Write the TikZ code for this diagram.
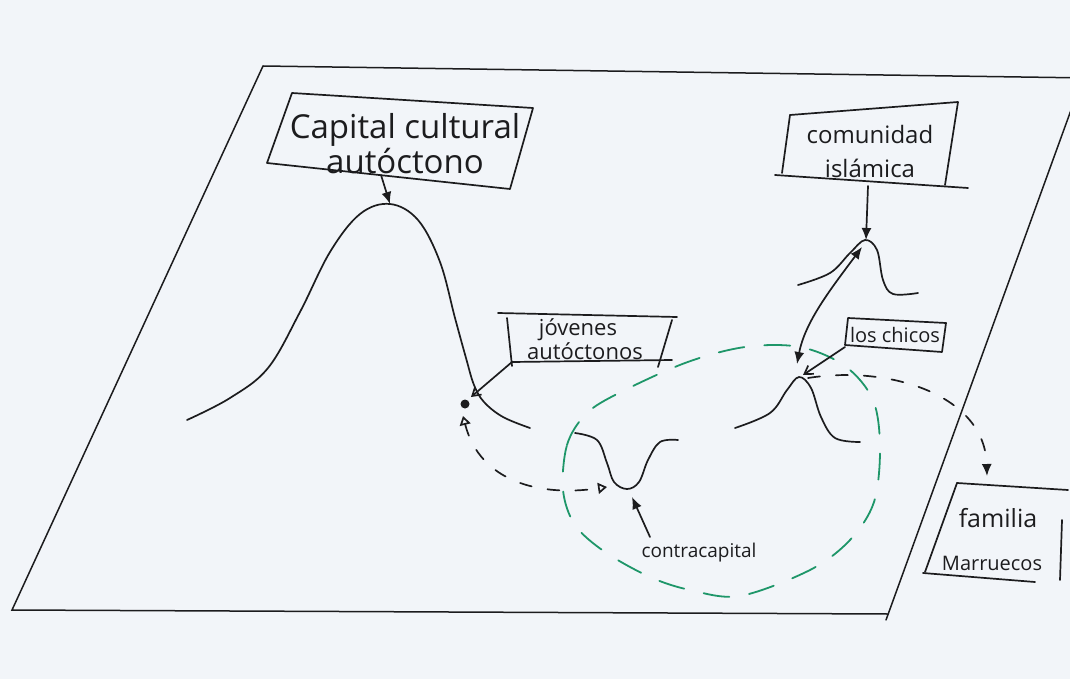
\documentclass[tikz,border=0pt]{standalone}
\usepackage{fontspec}
\setmainfont{Open Sans}
\usetikzlibrary{arrows.meta}
\definecolor{paper}{RGB}{242,245,249}
\definecolor{ink}{RGB}{28,28,30}
\definecolor{pen}{RGB}{30,150,105}
\tikzset{
  stroke/.style={draw=ink, line width=1.7pt, line cap=round, line join=round},
  frame/.style={draw=ink, line width=1.5pt, line cap=round},
  lbl/.style={inner sep=0pt, text=ink, align=center},
  fullhead/.style={-{Latex[length=12pt,width=10pt]}},
  openhead/.style={-{Straight Barb[length=8pt,width=10pt]}},
  trihead/.style={{Triangle[open,length=9pt,width=11pt]}-{Triangle[open,length=9pt,width=11pt]}},
  dashline/.style={stroke, dash pattern=on 12pt off 16pt},
  greendash/.style={draw=pen, line width=1.8pt, line cap=round, dash pattern=on 26pt off 20pt}
}
\begin{document}
\begin{tikzpicture}[x=1pt,y=-1pt]
  \useasboundingbox (0,0) rectangle (1070,679);
  \fill[paper] (0,0) rectangle (1070,679);

  % the ground plane
  \begin{scope}
    \clip (0,0) rectangle (1070,679);
    \draw[frame] (263,66) -- (1090,78);
    \draw[frame] (263,66) -- (12,610) -- (888,614);
    \draw[frame] (1083,77) -- (886,620);
  \end{scope}

  % landscape of capitals
  \draw[stroke] plot[smooth, tension=0.6] coordinates {(187,420) (230,398) (268,368) (300,312) (330,252) (360,214) (390,204) (418,220) (440,262) (455,318) (466,358) (474,385) (484,402) (503,417) (530,428)};
  \draw[stroke] plot[smooth, tension=0.6] coordinates {(798,285) (830,273) (850,253) (865,240) (877,250) (883,280) (893,294) (918,293)};
  \draw[stroke] plot[smooth, tension=0.6] coordinates {(735,428) (770,413) (787,390) (799,377) (811,388) (821,417) (835,438) (860,442)};
  \draw[stroke] plot[smooth, tension=0.6] coordinates {(575,433) (597,440) (607,463) (614,482) (627,489) (639,482) (648,460) (660,442) (678,440)};

  \coordinate (peakA) at (390,204);
  \coordinate (peakB) at (866,240);
  \coordinate (peakBl) at (862,247);
  \coordinate (peakC) at (797,364);
  \coordinate (peakCr) at (803,375);
  \coordinate (peakCd) at (808,378);
  \coordinate (valley) at (607,487);
  \coordinate (valleyb) at (632,497);
  \coordinate (dotlow) at (463,416);
  \coordinate (dotarr) at (471,397);

  % green circle of the counter-capital
  \draw[greendash] plot[smooth cycle, tension=0.55] coordinates {(563,490) (567,445) (585,415) (615,395) (685,363) (745,347) (800,347) (845,366) (873,400) (880,448) (874,502) (850,540) (810,570) (740,596) (690,590) (650,577) (605,552) (575,525)};

  % Capital cultural autoctono
  \draw[stroke] (292,93) -- (533,108) -- (510,189) -- (267,163) -- cycle;
  \node[lbl, font=\fontsize{33}{35}\selectfont] (cap) at (405,144) {Capital cultural\\autóctono};
  \coordinate (capfoot) at (381,175);
  \draw[stroke, fullhead] (capfoot) -- (peakA);

  % comunidad islamica
  \draw[stroke] (790,115) -- (958,102) -- (945,185);
  \draw[stroke] (790,115) -- (782,173);
  \draw[stroke] (775,175) -- (968,188);
  \node[lbl, font=\fontsize{24}{34}\selectfont] (com) at (870,152) {comunidad\\islámica};
  \coordinate (comfoot) at (868,186);
  \draw[stroke, fullhead] (comfoot) -- (peakB);
  \draw[stroke, {Latex[length=12pt,width=10pt]}-{Latex[length=12pt,width=10pt]}] (peakBl) .. controls (830,290) and (805,322) .. (peakC);

  % jovenes autoctonos
  \draw[stroke] (498,313) -- (677,317);
  \draw[stroke] (507,318) -- (512,366);
  \draw[stroke] (512,362) -- (672,360);
  \draw[stroke] (672,320) -- (658,367);
  \node[lbl, font=\fontsize{22}{24}\selectfont] (jov) at (578,339) {jóvenes\\\hspace*{14pt}autóctonos};
  \coordinate (jovfoot) at (512,362);
  \draw[stroke, openhead] (jovfoot) -- (dotarr);
  \fill[ink] (465,404) circle (4.5pt);

  % los chicos
  \draw[stroke] (848,318) -- (946,323) -- (942,352) -- (845,345) -- cycle;
  \node[lbl, font=\fontsize{20}{22}\selectfont] (chi) at (895,335) {los chicos};
  \coordinate (chifoot) at (845,347);
  \draw[stroke, openhead] (chifoot) -- (peakCr);

  % contracapital
  \node[lbl, font=\fontsize{19}{22}\selectfont] (con) at (699,553) {contracapital};
  \coordinate (conhead) at (650,537);
  \draw[stroke, fullhead] (conhead) -- (valleyb);
  \draw[dashline, trihead] (dotlow) .. controls (480,482) and (540,497) .. (valley);

  % familia marroqui
  \draw[stroke] (957,483) -- (1068,490);
  \draw[stroke] (957,483) -- (925,572);
  \draw[stroke] (923,573) -- (1035,582);
  \draw[stroke] (1062,520) -- (1060,580);
  \node[lbl, font=\fontsize{25}{30}\selectfont] (fam) at (998,518) {familia};
  \node[lbl, font=\fontsize{20}{24}\selectfont] (mar) at (992,563) {Marruecos};
  \coordinate (famtop) at (987,476);
  \draw[dashline, fullhead] (peakCd) .. controls (890,365) and (985,395) .. (famtop);
\end{tikzpicture}
\end{document}
